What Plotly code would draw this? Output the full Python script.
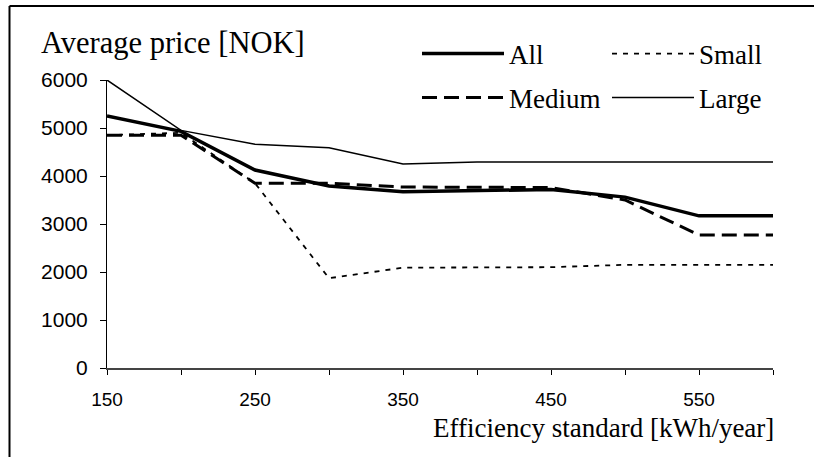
import plotly.graph_objects as go

standard = [150, 200, 250, 300, 350, 400, 450, 500, 550, 600]
all_price = [5250, 4930, 4125, 3790, 3670, 3700, 3720, 3560, 3170, 3170]
small_price = [4850, 4900, 3850, 1870, 2090, 2100, 2100, 2150, 2150, 2150]
medium_price = [4850, 4850, 3850, 3850, 3770, 3760, 3760, 3500, 2770, 2770]
large_price = [6000, 4950, 4660, 4590, 4250, 4290, 4290, 4290, 4290, 4290]

x_tick_vals = [150, 200, 250, 300, 350, 400, 450, 500, 550, 600]
x_tick_text = ["150", "", "250", "", "350", "", "450", "", "550", ""]
y_tick_vals = [0, 1000, 2000, 3000, 4000, 5000, 6000]

W, H = 814, 457
ML, MR, MT, MB = 107, 41, 80, 89
PW, PH = W - ML - MR, H - MT - MB

def px_x(p):
    return (p - ML) / PW

def px_y(p):
    return (H - MB - p) / PH

SERIF = "Liberation Serif, Times New Roman, serif"
SANS = "Liberation Sans, Arial, sans-serif"

fig = go.Figure()
fig.add_trace(go.Scatter(x=standard, y=all_price, name="All", mode="lines",
                         line=dict(color="black", width=3.5), legend="legend"))
fig.add_trace(go.Scatter(x=standard, y=small_price, name="Small", mode="lines",
                         line=dict(color="black", width=1.8, dash="5px,6px"), legend="legend"))
fig.add_trace(go.Scatter(x=standard, y=medium_price, name="Medium", mode="lines",
                         line=dict(color="black", width=3, dash="15px,7px"), legend="legend2"))
fig.add_trace(go.Scatter(x=standard, y=large_price, name="Large", mode="lines",
                         line=dict(color="black", width=1.5), legend="legend2"))

legend_common = dict(orientation="h", xanchor="left", yanchor="middle",
                     font=dict(family=SERIF, size=27, color="black"),
                     bgcolor="rgba(0,0,0,0)", itemwidth=82, entrywidth=93,
                     traceorder="normal")

fig.update_layout(
    width=W, height=H,
    margin=dict(l=ML, r=MR, t=MT, b=MB, autoexpand=False),
    paper_bgcolor="white", plot_bgcolor="white",
    showlegend=True,
    legend=dict(x=px_x(417), y=px_y(54), **legend_common),
    legend2=dict(x=px_x(417), y=px_y(98), **legend_common),
    xaxis=dict(range=[150, 600], tickvals=x_tick_vals, ticktext=x_tick_text,
               showgrid=False, zeroline=False, showline=True, linecolor="#444",
               linewidth=1.5, ticks="outside", ticklen=5, tickcolor="black",
               tickfont=dict(family=SANS, size=19, color="black"),
               ticklabelstandoff=8, automargin=False),
    yaxis=dict(range=[0, 6000], tickvals=y_tick_vals,
               showgrid=False, zeroline=False, showline=True, linecolor="black",
               linewidth=1, ticks="outside", ticklen=6, tickcolor="black",
               tickfont=dict(family=SANS, size=21, color="black"),
               ticklabelstandoff=8, automargin=False),
    annotations=[
        dict(text="Average price [NOK]", xref="paper", yref="paper",
             x=px_x(39), y=px_y(43), xanchor="left", yanchor="middle",
             showarrow=False, font=dict(family=SERIF, size=30.5, color="black")),
        dict(text="Efficiency standard [kWh/year]", xref="paper", yref="paper",
             x=px_x(776), y=px_y(428), xanchor="right", yanchor="middle",
             showarrow=False, font=dict(family=SERIF, size=27, color="black")),
    ],
    shapes=[
        dict(type="line", xref="paper", yref="paper", x0=px_x(9.5), x1=px_x(820),
             y0=px_y(6), y1=px_y(6), line=dict(color="black", width=2)),
        dict(type="line", xref="paper", yref="paper", x0=px_x(9.5), x1=px_x(9.5),
             y0=px_y(6), y1=px_y(470), line=dict(color="black", width=2)),
    ],
)

fig.write_html("out.html", config={"displayModeBar": False},
               post_script="document.body.style.margin='0';")
